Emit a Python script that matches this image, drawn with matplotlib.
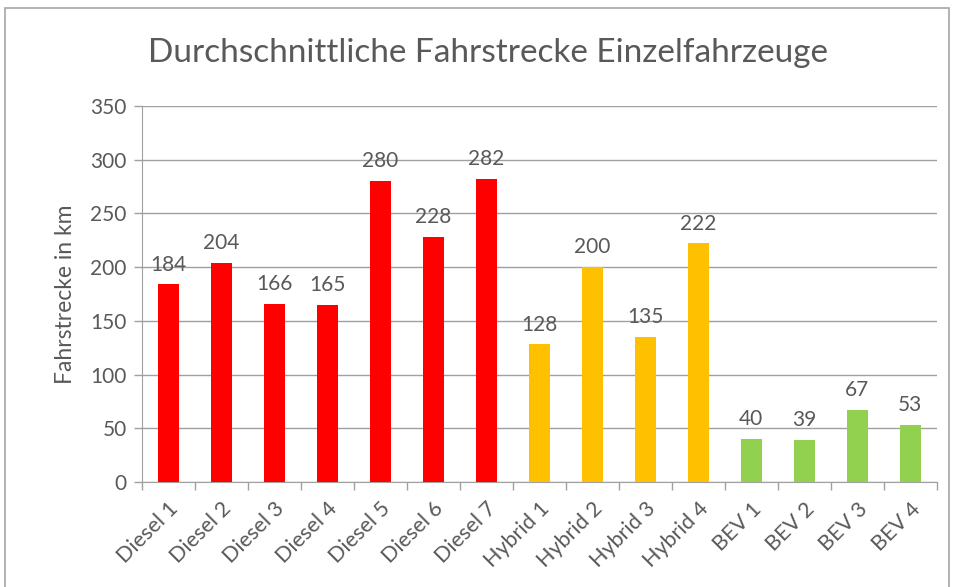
import matplotlib
matplotlib.use("Agg")
import matplotlib.pyplot as plt
from matplotlib.patches import Rectangle

categories = ["Diesel 1", "Diesel 2", "Diesel 3", "Diesel 4", "Diesel 5", "Diesel 6", "Diesel 7",
              "Hybrid 1", "Hybrid 2", "Hybrid 3", "Hybrid 4",
              "BEV 1", "BEV 2", "BEV 3", "BEV 4"]
values = [184, 204, 166, 165, 280, 228, 282, 128, 200, 135, 222, 40, 39, 67, 53]
groups = ["diesel"] * 7 + ["hybrid"] * 4 + ["bev"] * 4
group_colors = {"diesel": "#FF0000", "hybrid": "#FFC000", "bev": "#92D050"}
y_ticks = [0, 50, 100, 150, 200, 250, 300, 350]

plt.rcParams["font.family"] = ["Lato", "DejaVu Sans"]
text_col = "#595959"
grid_col = "#A0A0A0"

fig = plt.figure(figsize=(9.54, 5.87), dpi=100)
ax = fig.add_axes([0.1488, 0.179, 0.8332, 0.6404])

x = list(range(len(categories)))
colors = [group_colors[g] for g in groups]
ax.bar(x, values, width=0.4, color=colors, zorder=3)
for xi, v in zip(x, values):
    ax.annotate(str(v), (xi, v), textcoords="offset points", xytext=(0, 7),
                ha="center", va="bottom", fontsize=15, color=text_col)

ax.set_xlim(-0.5, len(categories) - 0.5)
ax.set_ylim(0, 350)
ax.set_yticks(y_ticks)
ax.set_yticklabels([str(t) for t in y_ticks], fontsize=15, color=text_col)
ax.yaxis.grid(True, color=grid_col, linewidth=1, zorder=0)
ax.set_axisbelow(True)

# category ticks sit on the boundaries between categories
ax.set_xticks([i - 0.5 for i in range(len(categories) + 1)], minor=False)
ax.set_xticklabels([])
ax.set_xticks(x, minor=True)
ax.set_xticklabels(categories, minor=True, rotation=45, ha="right",
                   rotation_mode="anchor", fontsize=15.5, color=text_col)
ax.tick_params(axis="x", which="major", length=6, color=grid_col, width=1)
ax.tick_params(axis="x", which="minor", length=0, pad=12)
ax.tick_params(axis="y", length=6, color=grid_col, width=1, pad=5)

for side in ("top", "right"):
    ax.spines[side].set_visible(False)
ax.spines["left"].set_color(grid_col)
ax.spines["bottom"].set_color(grid_col)

ax.set_ylabel("Fahrstrecke in km", fontsize=16.5, color=text_col, labelpad=10)
fig.text(0.512, 0.91, "Durchschnittliche Fahrstrecke Einzelfahrzeuge",
         ha="center", va="center", fontsize=24, color=text_col)

fig.patches.append(Rectangle((0.005, -0.01), 0.99, 0.997, transform=fig.transFigure,
                             fill=False, edgecolor="#A6A6A6", linewidth=1.2))

fig.savefig("out.png", dpi=100)
